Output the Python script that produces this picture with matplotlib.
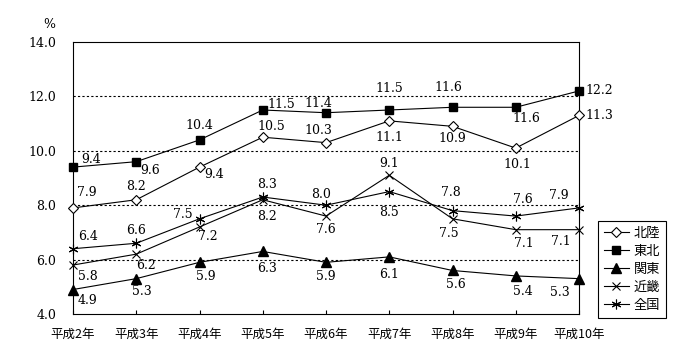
import matplotlib
matplotlib.use("Agg")
import matplotlib.pyplot as plt

years = ["平成2年", "平成3年", "平成4年", "平成5年", "平成6年", "平成7年", "平成8年", "平成9年", "平成10年"]
hokuriku = [7.9, 8.2, 9.4, 10.5, 10.3, 11.1, 10.9, 10.1, 11.3]
tohoku = [9.4, 9.6, 10.4, 11.5, 11.4, 11.5, 11.6, 11.6, 12.2]
kanto = [4.9, 5.3, 5.9, 6.3, 5.9, 6.1, 5.6, 5.4, 5.3]
kinki = [5.8, 6.2, 7.2, 8.2, 7.6, 9.1, 7.5, 7.1, 7.1]
zenkoku = [6.4, 6.6, 7.5, 8.3, 8.0, 8.5, 7.8, 7.6, 7.9]
series_names = ["北陸", "東北", "関東", "近畿", "全国"]
y_ticks = [4.0, 6.0, 8.0, 10.0, 12.0, 14.0]

# label offsets in pixels (dx, dy up-positive) - styling only
off_hokuriku = [(14, 15), (0, 13), (15, -7), (9, 11), (-8, 12), (0, -17), (0, -12), (2, -16), (20, 0)]
off_tohoku = [(18, 8), (14, -9), (0, 14), (19, 5), (-8, 9), (0, 21), (-4, 20), (11, -11), (20, 0)]
off_kanto = [(15, -11), (6, -13), (6, -14), (4, -17), (0, -14), (0, -18), (3, -14), (7, -16), (-19, -14)]
off_kinki = [(15, -11), (10, -11), (8, -10), (4, -17), (0, -13), (0, 12), (-4, -15), (8, -14), (-18, -12)]
off_zenkoku = [(15, 12), (0, 13), (-17, 4), (4, 13), (-5, 11), (0, -21), (-2, 18), (7, 17), (-20, 12)]

plt.rcParams['font.family'] = ['Noto Sans CJK JP', 'DejaVu Sans']
num_font = ['DejaVu Serif']

fig = plt.figure(figsize=(7.0, 3.6), dpi=100)
ax = fig.add_axes([73/700, 1-314/360, (579-73)/700, (314-42)/360])

x = list(range(len(years)))
styles = [
    (hokuriku, dict(marker='D', markersize=5, markerfacecolor='white', markeredgecolor='black', markeredgewidth=0.8), off_hokuriku),
    (tohoku, dict(marker='s', markersize=6, markerfacecolor='black', markeredgecolor='black'), off_tohoku),
    (kanto, dict(marker='^', markersize=7, markerfacecolor='black', markeredgecolor='black'), off_kanto),
    (kinki, dict(marker='x', markersize=6, markeredgewidth=0.8), off_kinki),
    (zenkoku, dict(marker=(6, 2, 0), markersize=7, markeredgewidth=0.8), off_zenkoku),
]
handles = []
for (vals, st, offs), name in zip(styles, series_names):
    ln, = ax.plot(x, vals, color='black', linewidth=0.8, clip_on=False, zorder=3, **st)
    handles.append(ln)
    for xi, v, (dx, dy) in zip(x, vals, offs):
        ax.annotate(f"{v:.1f}", (xi, v), xytext=(dx, dy), textcoords='offset pixels',
                    ha='center', va='center', fontsize=9, family=num_font)

ax.set_xlim(0, len(years) - 1)
ax.set_ylim(4, 14)
ax.set_yticks(y_ticks)
ax.set_yticklabels([f"{t:.1f}" for t in y_ticks], family=num_font, fontsize=9)
ax.set_xticks(x)
ax.set_xticklabels(years, fontsize=9)
ax.tick_params(axis='y', length=0, pad=12)
ax.tick_params(axis='x', direction='in', length=3, pad=10, width=0.8)
for t in [6, 8, 10, 12]:
    ax.axhline(t, color='black', linestyle=(0, (2, 2)), linewidth=0.8, zorder=1)
for s in ax.spines.values():
    s.set_linewidth(0.8)
    s.set_color('black')

fig.text(49/700, 1-25/360, "%", family=num_font, fontsize=9, ha='center', va='center')

leg = fig.legend(handles, series_names, loc='upper left', bbox_to_anchor=(598/700, 1-221/360),
                 borderaxespad=0, fontsize=9.5, handlelength=1.9, handletextpad=0.35,
                 labelspacing=0.38, borderpad=0.45, fancybox=False, framealpha=1,
                 edgecolor='black')
leg.get_frame().set_linewidth(0.8)

fig.savefig("out.png", dpi=100)
